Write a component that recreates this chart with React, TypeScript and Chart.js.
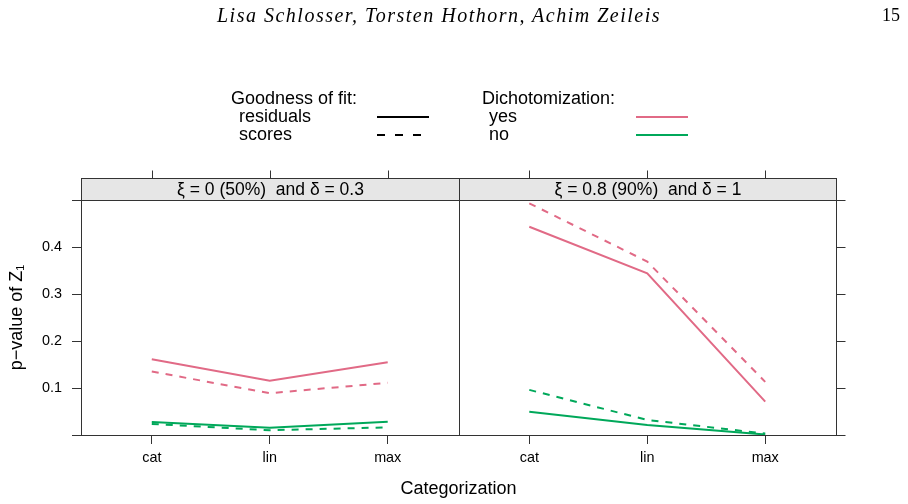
import React, { useEffect, useRef } from 'react';
import { Chart, registerables } from 'chart.js';

Chart.register(...registerables);

// ---------- data ----------
const categories = ['cat', 'lin', 'max'];
const panelLabels = ['ξ = 0 (50%)  and δ = 0.3', 'ξ = 0.8 (90%)  and δ = 1'];
const yTickValues = [0, 0.1, 0.2, 0.3, 0.4, 0.5];

// panel 1: xi = 0, delta = 0.3
const p1ResidualsYes = [0.161, 0.1155, 0.155];
const p1ScoresYes = [0.135, 0.089, 0.111];
const p1ResidualsNo = [0.0277, 0.0156, 0.0284];
const p1ScoresNo = [0.0234, 0.0102, 0.0163];

// panel 2: xi = 0.8, delta = 1
const p2ResidualsYes = [0.443, 0.344, 0.071];
const p2ScoresYes = [0.493, 0.369, 0.113];
const p2ResidualsNo = [0.0496, 0.0213, 0.001];
const p2ScoresNo = [0.096, 0.032, 0.003];

// ---------- style ----------
const PINK = '#E16A86';
const GREEN = '#00A85A';
const FRAME = '#333333';
const SANS = '"Liberation Sans", Arial, Helvetica, sans-serif';
const SERIF = '"Liberation Serif", "Times New Roman", serif';
const PANEL_SPAN = 3.2; // width of one panel in x units
const X_PAD = 0.6; // distance of first category from panel edge
const DASH = [7, 7];

const xOf = (panel: number, i: number) => panel * PANEL_SPAN + X_PAD + i;
const xTickValues = [0, 1].flatMap((p) => categories.map((_, i) => xOf(p, i)));

const series = [
  { panel: 0, values: p1ResidualsYes, color: PINK, dash: [] as number[] },
  { panel: 0, values: p1ScoresYes, color: PINK, dash: DASH },
  { panel: 0, values: p1ResidualsNo, color: GREEN, dash: [] as number[] },
  { panel: 0, values: p1ScoresNo, color: GREEN, dash: DASH },
  { panel: 1, values: p2ResidualsYes, color: PINK, dash: [] as number[] },
  { panel: 1, values: p2ScoresYes, color: PINK, dash: DASH },
  { panel: 1, values: p2ResidualsNo, color: GREEN, dash: [] as number[] },
  { panel: 1, values: p2ScoresNo, color: GREEN, dash: DASH },
];

const latticePlugin = {
  id: 'lattice',
  afterDraw(chart: any) {
    const { ctx, chartArea: a, scales } = chart;
    const x = scales.x;
    const y = scales.y;
    const stripH = 22;
    const top = Math.round(a.top) + 0.5;
    const bottom = Math.round(a.bottom) + 0.5;
    const stripTop = top - stripH;
    ctx.save();
    ctx.lineWidth = 1;
    ctx.strokeStyle = FRAME;
    for (let p = 0; p < 2; p++) {
      const x0 = Math.round(x.getPixelForValue(p * PANEL_SPAN)) + 0.5;
      const x1 = Math.round(x.getPixelForValue((p + 1) * PANEL_SPAN)) + 0.5;
      ctx.fillStyle = '#E6E6E6';
      ctx.fillRect(x0, stripTop, x1 - x0, stripH);
      ctx.strokeRect(x0, stripTop, x1 - x0, stripH);
      ctx.fillStyle = '#000';
      ctx.font = `17.5px ${SANS}`;
      ctx.textAlign = 'center';
      ctx.textBaseline = 'middle';
      ctx.fillText(panelLabels[p], (x0 + x1) / 2, stripTop + stripH / 2 + 1);
      ctx.strokeRect(x0, top, x1 - x0, bottom - top);
      categories.forEach((_, i) => {
        const px = Math.round(x.getPixelForValue(xOf(p, i))) + 0.5;
        ctx.beginPath();
        ctx.moveTo(px, stripTop - 8);
        ctx.lineTo(px, stripTop);
        ctx.stroke();
      });
    }
    const right = Math.round(a.right) + 0.5;
    yTickValues.forEach((v) => {
      const py = Math.round(y.getPixelForValue(v)) + 0.5;
      ctx.beginPath();
      ctx.moveTo(right, py);
      ctx.lineTo(right + 9, py);
      ctx.stroke();
    });
    ctx.restore();
  },
};

function LatticeChart() {
  const ref = useRef<HTMLCanvasElement | null>(null);
  useEffect(() => {
    if (!ref.current) return;
    const chart = new Chart(ref.current, {
      type: 'line',
      data: {
        datasets: series.map((s) => ({
          data: s.values.map((v, i) => ({ x: xOf(s.panel, i), y: v })),
          borderColor: s.color,
          backgroundColor: s.color,
          borderWidth: 2,
          borderDash: s.dash,
          pointRadius: 0,
          tension: 0,
          fill: false,
        })),
      },
      options: {
        animation: false,
        responsive: false,
        events: [],
        layout: { padding: { left: 0, top: 200, right: 72, bottom: 0 } },
        plugins: { legend: { display: false }, tooltip: { enabled: false } },
        scales: {
          x: {
            type: 'linear',
            min: 0,
            max: 2 * PANEL_SPAN,
            afterBuildTicks: (s: any) => {
              s.ticks = xTickValues.map((v) => ({ value: v }));
            },
            afterFit: (s: any) => {
              s.height = 69;
            },
            ticks: {
              autoSkip: false,
              maxRotation: 0,
              padding: 5,
              color: '#000',
              font: { family: SANS, size: 14.4 },
              callback: (_v: any, i: number) => categories[i % categories.length],
            },
            grid: { drawOnChartArea: false, drawTicks: true, tickLength: 9, color: FRAME },
            border: { display: true, color: FRAME },
            title: {
              display: true,
              text: 'Categorization',
              color: '#000',
              font: { family: SANS, size: 18 },
              padding: { top: 0, bottom: 4 },
            },
          },
          y: {
            type: 'linear',
            min: 0,
            max: 0.5,
            afterBuildTicks: (s: any) => {
              s.ticks = yTickValues.map((v) => ({ value: v }));
            },
            afterFit: (s: any) => {
              s.width = 81;
            },
            ticks: {
              autoSkip: false,
              padding: 10,
              color: '#000',
              font: { family: SANS, size: 14.4 },
              callback: (v: any) => (v > 0.001 && v < 0.499 ? Number(v).toFixed(1) : ''),
            },
            grid: { drawOnChartArea: false, drawTicks: true, tickLength: 9, color: FRAME },
            border: { display: true, color: FRAME },
            title: {
              display: true,
              text: 'p−value of Z₁',
              color: '#000',
              font: { family: SANS, size: 18 },
              padding: { top: 6, bottom: 0 },
            },
          },
        },
      },
      plugins: [latticePlugin],
    } as any);
    return () => chart.destroy();
  }, []);
  return (
    <canvas
      ref={ref}
      width={908}
      height={504}
      style={{ position: 'absolute', left: 0, top: 0, width: 908, height: 504 }}
    />
  );
}

const txt = (left: number, top: number, text: string) => (
  <div
    style={{
      position: 'absolute',
      left,
      top,
      font: `18px ${SANS}`,
      lineHeight: '18px',
      whiteSpace: 'pre',
      color: '#000',
    }}
  >
    {text}
  </div>
);

export default function App() {
  return (
    <div style={{ position: 'absolute', left: 0, top: 0, width: 908, height: 504, background: '#fff', overflow: 'hidden' }}>
      <LatticeChart />
      <div
        style={{
          position: 'absolute',
          left: 217,
          top: 5,
          font: `italic 20px ${SERIF}`,
          lineHeight: '21px',
          letterSpacing: '1.5px',
          whiteSpace: 'pre',
          color: '#000',
        }}
      >
        Lisa Schlosser, Torsten Hothorn, Achim Zeileis
      </div>
      <div
        style={{
          position: 'absolute',
          right: 8,
          top: 5,
          font: `18px ${SERIF}`,
          lineHeight: '21px',
          color: '#000',
        }}
      >
        15
      </div>
      {txt(231, 89, 'Goodness of fit:')}
      {txt(239, 107, 'residuals')}
      {txt(239, 125, 'scores')}
      {txt(482, 89, 'Dichotomization:')}
      {txt(489, 107, 'yes')}
      {txt(489, 125, 'no')}
      <svg
        width={908}
        height={504}
        style={{ position: 'absolute', left: 0, top: 0, pointerEvents: 'none' }}
      >
        <line x1={377} y1={117} x2={429} y2={117} stroke="#000" strokeWidth={2} />
        <line x1={377} y1={135} x2={429} y2={135} stroke="#000" strokeWidth={2} strokeDasharray="8 10" />
        <line x1={636} y1={117} x2={688} y2={117} stroke={PINK} strokeWidth={2} />
        <line x1={636} y1={135} x2={688} y2={135} stroke={GREEN} strokeWidth={2} />
      </svg>
    </div>
  );
}
